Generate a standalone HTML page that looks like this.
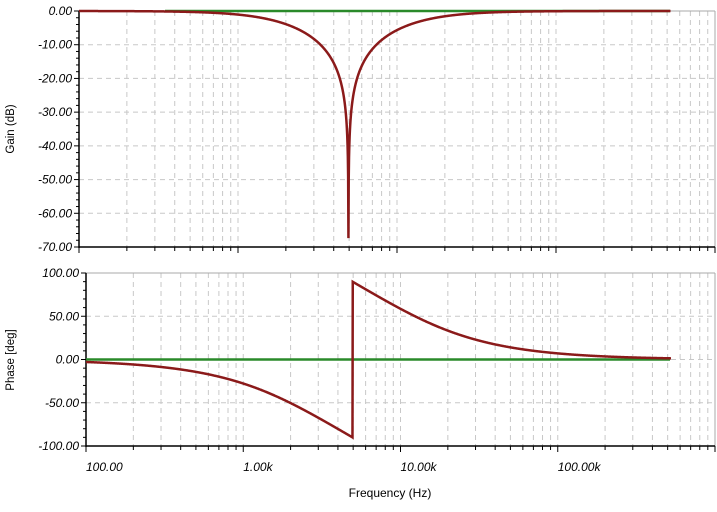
<!DOCTYPE html><html><head><style>body{margin:0;background:#fff}svg{display:block}text{font-family:"Liberation Sans",sans-serif;font-size:12px;fill:#000}.t{font-style:italic}</style></head><body>
<svg id="s" width="717" height="512" xmlns="http://www.w3.org/2000/svg"></svg>
<script>
const S=document.getElementById('s');let h='';
const f0=4950,Q=0.4;
function H(f){const r=f/f0;const re=1-r*r,im=r/Q;const g=Math.abs(re)/Math.hypot(re,im);let ph=-Math.atan2(im,re)*180/Math.PI;if(re<0)ph+=180;return [20*Math.log10(Math.max(g,1e-9)),ph];}
function panel(L,R,T,B,ymax,ymin,step,minor,labs,titleY,title,labX){
 const dec=(R-L)/4;const X=f=>L+Math.log10(f/100)*dec;const Y=v=>T+(ymax-v)/(ymax-ymin)*(B-T);
 for(let d=0;d<4;d++)for(let k=1;k<10;k++){const x=X(100*Math.pow(10,d)*k);if(k>1||d>0)h+=`<line x1="${x}" y1="${T}" x2="${x}" y2="${B}" stroke="#c8c8c8" stroke-dasharray="5,4"/>`;}
 for(let v=ymax-step;v>ymin;v-=step)h+=`<line x1="${L}" y1="${Y(v)}" x2="${R}" y2="${Y(v)}" stroke="#c8c8c8" stroke-dasharray="5,4"/>`;
 h+=`<line x1="${L}" y1="${T}" x2="${R}" y2="${T}" stroke="#aaa"/><line x1="${R}" y1="${T}" x2="${R}" y2="${B}" stroke="#aaa"/>`;
 h+=`<line x1="${L}" y1="${T}" x2="${L}" y2="${B+1}" stroke="#000" stroke-width="1.5"/><line x1="${L}" y1="${B}" x2="${R}" y2="${B}" stroke="#000" stroke-width="1.5"/>`;
 for(let v=ymax;v>=ymin-0.001;v-=step/minor){const maj=Math.abs(((ymax-v)/step)-Math.round((ymax-v)/step))<1e-6;const y=Y(v);h+=`<line x1="${L-(maj?5:3)}" y1="${y}" x2="${L}" y2="${y}" stroke="#000"/>`;if(maj)h+=`<text class="t" x="${L-7}" y="${y+4}" text-anchor="end">${v.toFixed(2)}</text>`;}
 for(let d=0;d<4;d++)for(let k=1;k<10;k++){const x=X(100*Math.pow(10,d)*k);h+=`<line x1="${x}" y1="${B}" x2="${x}" y2="${B+(k==1?6:4)}" stroke="#000"/>`;}
 h+=`<line x1="${R}" y1="${B}" x2="${R}" y2="${B+6}" stroke="#000"/>`;
 if(labs){['100.00','1.00k','10.00k','100.00k'].forEach((t,i)=>{h+=`<text class="t" x="${L+i*dec}" y="${B+25}">${t}</text>`});}
 h+=`<text transform="translate(${labX},${titleY}) rotate(-90)" text-anchor="middle" style="font-size:11.5px">${title}</text>`;
 return {X,Y};
}
const a=panel(79,715,11,247,0,-70,10,5,false,129,'Gain (dB)',14);
const b=panel(86,715,273,446,100,-100,50,5,true,360,'Phase [deg]',14);
h+=`<text x="390" y="497" text-anchor="middle">Frequency (Hz)</text>`;
h+=`<line x1="165" y1="${a.Y(0)}" x2="670" y2="${a.Y(0)}" stroke="#2a8a2a" stroke-width="2.5"/>`;
h+=`<line x1="86" y1="${b.Y(0)}" x2="670" y2="${b.Y(0)}" stroke="#2a8a2a" stroke-width="2.5"/>`;
let pg='',pp='';const N=2000;let done=false;
for(let i=0;i<=N;i++){const lf=2+i/N*(Math.log10(525000)-2);let f=Math.pow(10,lf);
 if(!done&&f>=f0){done=true;pg+='L'+a.X(f0).toFixed(2)+','+a.Y(-67).toFixed(2);}
 const [g,p]=H(f);
 pg+=(i?'L':'M')+a.X(f).toFixed(2)+','+a.Y(Math.max(g,-67)).toFixed(2);
 pp+=(i?'L':'M')+b.X(f).toFixed(2)+','+b.Y(p).toFixed(2);}
h+=`<path d="${pg}" fill="none" stroke="#8b1a1a" stroke-width="2.5"/><path d="${pp}" fill="none" stroke="#8b1a1a" stroke-width="2.5"/>`;
S.innerHTML=h;
</script></body></html>
